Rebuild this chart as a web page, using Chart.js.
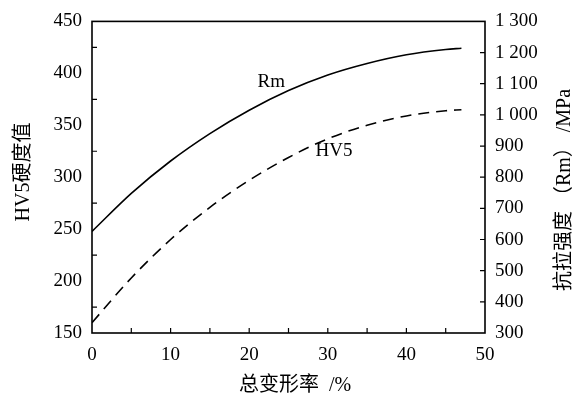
<!DOCTYPE html>
<html>
<head>
<meta charset="utf-8">
<script src="https://cdn.jsdelivr.net/npm/chart.js@4.4.1/dist/chart.umd.min.js"></script>
<style>
  html, body { margin: 0; padding: 0; background: #fff; }
</style>
</head>
<body>
<canvas id="chart" width="577" height="399"></canvas>
<script>
// 总变形率 (%)
const strain = [0, 5, 10, 15, 20, 25, 30, 35, 40, 45, 47];
// HV5 硬度值 (left axis)
const hv5 = [160, 203, 240, 271, 297, 319, 337, 350, 359, 364, 365];
// 抗拉强度 Rm / MPa (right axis)
const rm = [626, 748, 852, 940, 1015, 1078, 1128, 1165, 1193, 1210, 1214];

const xTickMarks = [5, 10, 15, 20, 25, 30, 35, 40, 45];
const hvTickMarks = [175, 225, 275, 325, 375, 425];
const rmTickMarks = [400, 500, 600, 700, 800, 900, 1000, 1100, 1200];

const SERIF = '"Liberation Serif", "DejaVu Serif", serif';
const CJK = '"Liberation Serif", "Noto Sans CJK SC", serif';

function toPoints(xs, ys) {
  return xs.map((x, i) => ({ x, y: ys[i] }));
}

function fmtMpa(v) {
  return v >= 1000 ? Math.floor(v / 1000) + ' ' + String(v % 1000).padStart(3, '0') : String(v);
}

const framePlugin = {
  id: 'frame',
  afterDatasetsDraw(chart) {
    const { ctx, chartArea: a, scales } = chart;
    ctx.save();
    ctx.strokeStyle = '#000';
    ctx.lineWidth = 1.6;
    ctx.strokeRect(a.left, a.top, a.right - a.left, a.bottom - a.top);

    // inward ticks
    ctx.lineWidth = 1.2;
    ctx.beginPath();
    xTickMarks.forEach((v) => {
      const px = scales.x.getPixelForValue(v);
      ctx.moveTo(px, a.bottom);
      ctx.lineTo(px, a.bottom - 5);
    });
    hvTickMarks.forEach((v) => {
      const py = scales.y.getPixelForValue(v);
      ctx.moveTo(a.left, py);
      ctx.lineTo(a.left + 5, py);
    });
    rmTickMarks.forEach((v) => {
      const py = scales.y1.getPixelForValue(v);
      ctx.moveTo(a.right, py);
      ctx.lineTo(a.right - 5, py);
    });
    ctx.stroke();

    // curve labels
    ctx.fillStyle = '#000';
    ctx.font = '19px ' + SERIF;
    ctx.textAlign = 'center';
    ctx.textBaseline = 'middle';
    ctx.fillText('Rm', scales.x.getPixelForValue(22.8), scales.y1.getPixelForValue(1106));
    ctx.fillText('HV5', scales.x.getPixelForValue(30.8), scales.y.getPixelForValue(325));

    // axis titles
    ctx.font = '20px ' + CJK;
    ctx.fillText('总变形率  /%', 295, 386);

    ctx.save();
    ctx.translate(24, 172);
    ctx.rotate(-Math.PI / 2);
    ctx.fillText('HV5硬度值', 0, 0);
    ctx.restore();

    ctx.save();
    ctx.translate(565, 190);
    ctx.rotate(-Math.PI / 2);
    ctx.fillText('抗拉强度 （Rm） /MPa', 0, 0);
    ctx.restore();

    ctx.restore();
  },
};

new Chart(document.getElementById('chart'), {
  type: 'line',
  data: {
    datasets: [
      {
        label: 'HV5',
        data: toPoints(strain, hv5),
        yAxisID: 'y',
        borderColor: '#000',
        borderWidth: 1.6,
        borderDash: [11, 7],
        pointRadius: 0,
        fill: false,
        cubicInterpolationMode: 'monotone',
      },
      {
        label: 'Rm',
        data: toPoints(strain, rm),
        yAxisID: 'y1',
        borderColor: '#000',
        borderWidth: 1.6,
        pointRadius: 0,
        fill: false,
        cubicInterpolationMode: 'monotone',
      },
    ],
  },
  options: {
    responsive: false,
    devicePixelRatio: 1,
    animation: false,
    layout: { padding: { top: 14, left: 0, right: 0, bottom: 0 } },
    plugins: {
      legend: { display: false },
      tooltip: { enabled: false },
    },
    scales: {
      x: {
        type: 'linear',
        min: 0,
        max: 50,
        grid: { display: false, drawTicks: false },
        border: { display: false },
        ticks: {
          stepSize: 10,
          padding: 11,
          color: '#000',
          font: { family: SERIF, size: 19 },
          maxRotation: 0,
        },
        afterFit(scale) { scale.height = 66; },
      },
      y: {
        position: 'left',
        min: 150,
        max: 450,
        grid: { display: false, drawTicks: false },
        border: { display: false },
        ticks: {
          stepSize: 50,
          padding: 10,
          color: '#000',
          font: { family: SERIF, size: 19 },
        },
        afterFit(scale) { scale.width = 92; },
      },
      y1: {
        position: 'right',
        min: 300,
        max: 1300,
        grid: { display: false, drawTicks: false },
        border: { display: false },
        ticks: {
          stepSize: 100,
          padding: 10,
          color: '#000',
          font: { family: SERIF, size: 19 },
          callback: (v) => fmtMpa(v),
        },
        afterFit(scale) { scale.width = 92; },
      },
    },
  },
  plugins: [framePlugin],
});
</script>
</body>
</html>
